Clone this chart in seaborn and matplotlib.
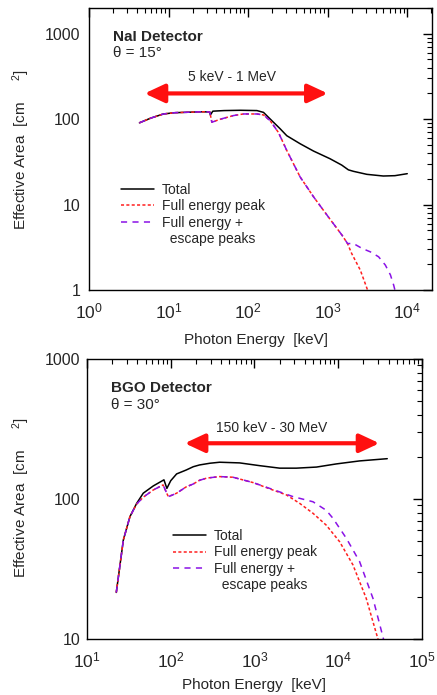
import numpy as np
import pandas as pd
import matplotlib
matplotlib.use("Agg")
import matplotlib.pyplot as plt
import seaborn as sns
from matplotlib.lines import Line2D
from matplotlib.ticker import FuncFormatter, NullFormatter, LogLocator

# ---------------- data ----------------
# NaI detector (theta = 15 deg)
nai_total_E = [4.3, 6.0, 8.6, 12, 20, 27.4, 33.0, 33.5, 36, 50, 80, 129, 156, 190, 253, 306, 451, 664, 1070, 1500, 1820, 2110, 3100, 5000, 7000, 10000]
nai_total_A = [90.6, 103, 115, 119, 121, 122, 121, 112, 124, 126, 127, 126, 120, 100, 77, 64, 51.5, 42.3, 34.4, 29, 25.5, 24.5, 22.6, 21.6, 21.8, 23]

nai_fep_E = [4.3, 6.0, 8.6, 12, 20, 27.4, 33.0, 35, 45, 65, 87, 129, 156, 189, 240, 306, 451, 665, 1075, 1510, 1775, 2000, 2570, 3170, 3500]
nai_fep_A = [90.6, 103, 115, 119, 121, 122, 121, 92, 100, 110, 115, 115, 112, 96, 70, 43, 21, 12.3, 6.7, 4.4, 3.5, 2.68, 1.71, 1.0, 0.8]

nai_esc_E = [4.3, 6.0, 8.6, 12, 20, 27.4, 33.0, 35, 45, 65, 87, 129, 156, 189, 240, 306, 451, 665, 1075, 1510, 1775, 2110, 2700, 3430, 4360, 5300, 6150, 6750, 7200]
nai_esc_A = [90.6, 103, 115, 119, 121, 122, 121, 92, 100, 110, 115, 115, 112, 96, 70, 43, 21, 12.3, 6.7, 4.4, 3.5, 3.5, 3.07, 2.8, 2.45, 1.96, 1.5, 1.14, 0.9]

# BGO detector (theta = 30 deg)
bgo_total_E = [22.4, 24.5, 27.2, 32.6, 39.2, 47, 62, 83, 90, 100, 117.6, 153, 186, 221, 294, 384, 665, 1150, 2000, 3160, 5500, 9500, 18000, 38500]
bgo_total_A = [21.5, 32, 51, 74.8, 93, 110, 124, 137, 119, 135, 151, 161, 170, 175, 180, 183, 181, 173, 166, 166, 169, 178, 187, 194]

bgo_fep_E = [22.4, 24.5, 27.2, 32.6, 39.2, 47, 62, 81, 93.5, 106, 117.6, 153, 186, 221, 270, 384, 553, 960, 1650, 2400, 3470, 5000, 7200, 10400, 15000, 21600, 29800, 32000]
bgo_fep_A = [21.5, 32, 51, 74.8, 92, 103, 116, 126, 104, 107, 110, 122, 128, 136, 141, 144.5, 143, 131, 116, 107, 93, 79, 65, 49.5, 33.8, 19.5, 10, 9]

bgo_esc_E = [22.4, 24.5, 27.2, 32.6, 39.2, 47, 62, 81, 93.5, 106, 117.6, 153, 186, 221, 270, 384, 553, 960, 1650, 2880, 5000, 7200, 8650, 12500, 18000, 26000, 34700, 37000]
bgo_esc_A = [21.5, 32, 51, 74.8, 92, 103, 116, 126, 104, 107, 110, 122, 128, 136, 141, 144.5, 143, 131, 117, 104, 95.5, 83, 72.8, 52.4, 35.7, 19.5, 10, 9]

nai_range = [5, 1000]      # keV
nai_range_y = 200
bgo_range = [147, 31000]
bgo_range_y = 250

labels = ["Total", "Full energy peak", "Full energy +", "  escape peaks"]

# ---------------- style ----------------
sns.set_theme(style="white")
plt.rcParams["font.family"] = ["Liberation Sans", "DejaVu Sans"]
plt.rcParams["mathtext.fontset"] = "custom"
plt.rcParams["mathtext.rm"] = "Liberation Sans"
plt.rcParams["mathtext.it"] = "Liberation Sans"
plt.rcParams["mathtext.bf"] = "Liberation Sans:bold"

RED = "#ff1f1f"
PURPLE = "#8a12e6"
ARROW = "#ff1010"
red_ls = (0, (2, 1.5))
pur_ls = (0, (4, 3.5))

fig = plt.figure(figsize=(4.37, 6.95), dpi=100)
ax1 = fig.add_axes([0.2037, 0.5827, 0.785, 0.4058])
ax2 = fig.add_axes([0.199, 0.0806, 0.7666, 0.4029])


def draw(ax, tE, tA, fE, fA, eE, eA):
    sns.lineplot(x=tE, y=tA, ax=ax, color="black", lw=1.1, estimator=None, sort=False)
    sns.lineplot(x=fE, y=fA, ax=ax, color=RED, lw=1.1, linestyle=red_ls, estimator=None, sort=False)
    sns.lineplot(x=eE, y=eA, ax=ax, color=PURPLE, lw=1.1, linestyle=pur_ls, estimator=None, sort=False)


draw(ax1, nai_total_E, nai_total_A, nai_fep_E, nai_fep_A, nai_esc_E, nai_esc_A)
draw(ax2, bgo_total_E, bgo_total_A, bgo_fep_E, bgo_fep_A, bgo_esc_E, bgo_esc_A)

for ax in (ax1, ax2):
    ax.set_xscale("log")
    ax.set_yscale("log")
    for sp in ax.spines.values():
        sp.set_color("black")
        sp.set_linewidth(1.0)
    ax.tick_params(which="both", direction="in", top=True, right=True, color="black")
    ax.tick_params(which="major", length=6.5, width=1)
    ax.tick_params(which="minor", length=3.5, width=0.8)
    ax.tick_params(axis="x", labelsize=12.5, pad=8)
    ax.tick_params(axis="y", labelsize=11.5)
    ax.yaxis.set_major_formatter(FuncFormatter(lambda v, p: f"{v:g}"))
    ax.yaxis.set_minor_formatter(NullFormatter())
    ax.xaxis.set_minor_formatter(NullFormatter())
    ax.xaxis.set_minor_locator(LogLocator(base=10, subs=np.arange(2, 10), numticks=20))
    ax.yaxis.set_minor_locator(LogLocator(base=10, subs=np.arange(2, 10), numticks=20))
    ax.set_xlabel("Photon Energy  [keV]", fontsize=11)
    ax.set_ylabel(r"Effective Area  [cm     $^{2}$]", fontsize=11)

ax1.set_xlim(1, 2.05e4)
ax1.set_ylim(1, 2000)
ax2.set_xlim(10, 1e5)
ax2.set_ylim(10, 1000)

ax1.tick_params(axis="y", pad=6)
ax2.tick_params(axis="y", pad=5)

ax1.xaxis.set_label_coords(0.487, -0.152)
ax2.xaxis.set_label_coords(0.5, -0.139)
ax1.yaxis.set_label_coords(-0.166, 0.497)
ax2.yaxis.set_label_coords(-0.164, 0.504)

# detector annotations
ax1.text(0.070, 0.897, "NaI Detector", transform=ax1.transAxes, fontsize=11, fontweight="bold", va="center", ha="left")
ax1.text(0.070, 0.840, "\u03b8 = 15\u00b0", transform=ax1.transAxes, fontsize=11, va="center", ha="left")
ax2.text(0.072, 0.896, "BGO Detector", transform=ax2.transAxes, fontsize=11, fontweight="bold", va="center", ha="left")
ax2.text(0.072, 0.836, "\u03b8 = 30\u00b0", transform=ax2.transAxes, fontsize=11, va="center", ha="left")

# range arrows
astyle = "<|-|>,head_length=0.6,head_width=0.28"
for ax, rng, yv, txt, tx, ty in ((ax1, nai_range, nai_range_y, "5 keV - 1 MeV", 63, 309),
                                 (ax2, bgo_range, bgo_range_y, "150 keV - 30 MeV", 1620, 320)):
    ax.annotate("", xy=(rng[1], yv), xytext=(rng[0], yv),
                arrowprops=dict(arrowstyle=astyle, color=ARROW, lw=3, shrinkA=0, shrinkB=0, mutation_scale=20))
    ax.text(tx, ty, txt, fontsize=10, ha="center", va="center")

# legends
handles = [Line2D([], [], color="black", lw=1.1),
           Line2D([], [], color=RED, lw=1.1, linestyle=red_ls),
           Line2D([], [], color=PURPLE, lw=1.1, linestyle=pur_ls),
           Line2D([], [], color="none", lw=0)]
for ax, anchor in ((ax1, (0.093, 0.38)), (ax2, (0.257, 0.393))):
    ax.legend(handles, labels, loc="upper left", bbox_to_anchor=anchor, frameon=False,
              fontsize=10, handlelength=2.4, handletextpad=0.55, labelspacing=0.18,
              borderpad=0, borderaxespad=0)

fig.savefig("out.png", dpi=100)
